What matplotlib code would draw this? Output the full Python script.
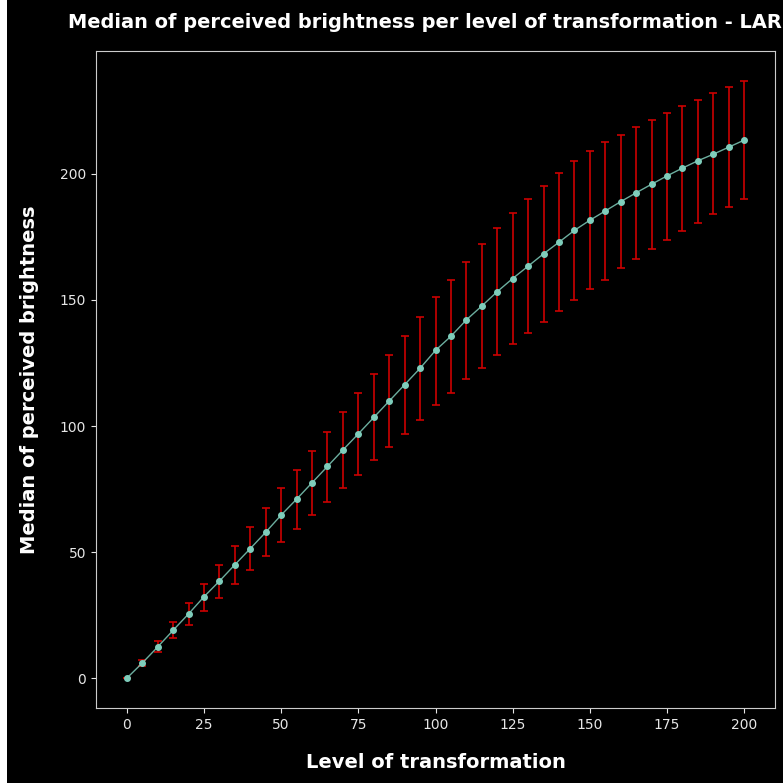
import matplotlib
matplotlib.use("Agg")
import matplotlib.pyplot as plt
from matplotlib.patches import Rectangle

# Level of transformation (0..200 in steps of 5)
levels = list(range(0, 205, 5))

# Median perceived brightness at each level
median = [0.0, 6.0, 12.4, 19.0, 25.5, 32.3, 38.5, 45.0, 51.4, 57.9,
          64.7, 71.0, 77.5, 84.0, 90.5, 96.9, 103.4, 109.9, 116.4, 122.9,
          130.0, 135.6, 142.1, 147.6, 153.3, 158.5, 163.4, 168.3, 172.9, 177.6,
          181.6, 185.3, 189.0, 192.5, 195.9, 199.2, 202.3, 205.2, 207.8, 210.6,
          213.4]

# Lower and upper ends of the spread around the median
lower = [0.0, 4.9, 10.2, 15.9, 21.0, 26.7, 31.9, 37.4, 43.0, 48.3,
         53.8, 59.1, 64.7, 70.0, 75.3, 80.7, 86.4, 91.5, 96.8, 102.4,
         108.2, 113.2, 118.5, 123.1, 128.0, 132.7, 137.0, 141.4, 145.8, 150.0,
         154.4, 158.1, 162.5, 166.1, 170.1, 173.8, 177.5, 180.6, 184.0, 186.8,
         190.0]
upper = [0.0, 7.3, 14.6, 22.3, 29.8, 37.4, 45.0, 52.3, 60.0, 67.3,
         75.5, 82.5, 90.2, 97.7, 105.4, 112.9, 120.6, 128.0, 135.8, 143.1,
         151.3, 158.1, 165.1, 172.1, 178.4, 184.4, 189.9, 195.2, 200.4, 205.2,
         209.1, 212.6, 215.6, 218.7, 221.4, 224.3, 227.1, 229.5, 232.0, 234.4,
         236.9]

yerr = [[m - lo for m, lo in zip(median, lower)],
        [hi - m for m, hi in zip(median, upper)]]

plt.style.use("dark_background")
fig = plt.figure(figsize=(7.83, 7.83), dpi=100, facecolor="black")
fig.patches.append(Rectangle((0, 0), 7 / 783, 1, transform=fig.transFigure,
                             facecolor="white", edgecolor="none", zorder=-1))
ax = fig.add_axes([96 / 783, 75 / 783, 679 / 783, 657 / 783])
ax.set_facecolor("black")

ax.errorbar(levels, median, yerr=yerr, fmt="none", ecolor="#cc0000",
            elinewidth=1.2, capsize=3, capthick=1.2, zorder=2)
ax.plot(levels, median, color="#7fcdbb", linewidth=1.0, alpha=0.85, zorder=3)
ax.plot(levels, median, linestyle="none", marker="o", markersize=4,
        color="#7fcdbb", zorder=4)

ax.set_xticks([0, 25, 50, 75, 100, 125, 150, 175, 200])
ax.set_yticks([0, 50, 100, 150, 200])
ax.tick_params(colors="#e6e6e6", labelsize=10)
for sp in ax.spines.values():
    sp.set_color("#cccccc")

fig.text(68 / 783, 1 - 23 / 783,
         "Median of perceived brightness per level of transformation - LAR",
         ha="left", va="center", fontsize=13.95, fontweight="bold", color="white")
ax.set_xlabel("Level of transformation", fontsize=14, fontweight="bold",
              color="white", labelpad=15)
ax.set_ylabel("Median of perceived brightness", fontsize=14, fontweight="bold",
              color="white", labelpad=15)

fig.savefig("out.png", dpi=100, facecolor=fig.get_facecolor())
